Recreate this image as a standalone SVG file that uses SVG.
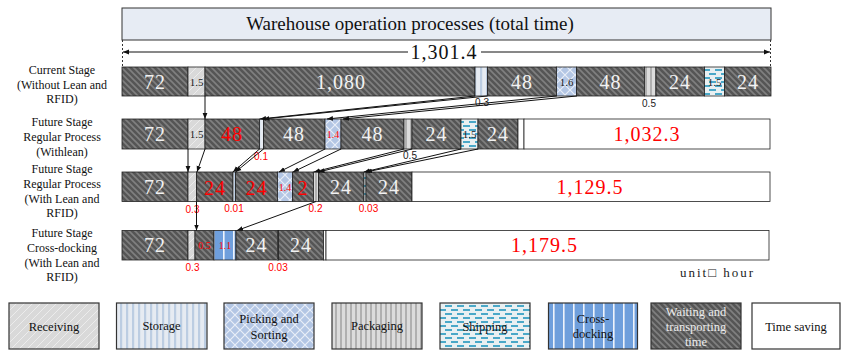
<svg xmlns="http://www.w3.org/2000/svg" width="842" height="352" viewBox="0 0 842 352">
<style>
.bg{fill:#fff}
.seg{stroke:#222;stroke-width:0.8}
.wait{fill:url(#pWait)}
.recv{fill:url(#pRecv)}
.stor{fill:url(#pStor)}
.pick{fill:url(#pPick)}
.pack{fill:url(#pPack)}
.ship{fill:url(#pShip)}
.xdock{fill:url(#pX)}
.save{fill:#fff}
.big{font-family:"Liberation Serif","Times New Roman",serif;font-size:20px;letter-spacing:1px;text-anchor:middle;fill:#f2f2f2}
.red{fill:#ff0000}
.sm{font-family:"Liberation Serif","Times New Roman",serif;font-size:11px;text-anchor:middle;fill:#222}
.smr{font-family:"Liberation Serif","Times New Roman",serif;font-size:10px;text-anchor:middle;fill:#ff0000}
.note{font-family:"Liberation Sans",Arial,sans-serif;font-size:10px;text-anchor:middle;fill:#222}
.noter{font-family:"Liberation Sans",Arial,sans-serif;font-size:10px;text-anchor:middle;fill:#ff0000}
.lab{font-family:"Liberation Serif","Times New Roman",serif;font-size:12px;text-anchor:middle;fill:#111}
.leg{font-family:"Liberation Serif","Times New Roman",serif;font-size:12.5px;text-anchor:middle;fill:#111}
.legw{fill:#ececec}
.lbox{stroke:#333;stroke-width:1.2}
.con line{stroke:#111;stroke-width:1;marker-end:url(#ah)}
</style>
<defs>
<marker id="ah" viewBox="0 0 10 10" refX="10" refY="5" markerWidth="6" markerHeight="6" markerUnits="userSpaceOnUse" orient="auto"><path d="M0,1 L10,5 L0,9 z" fill="#111"/></marker>
<pattern id="pWait" patternUnits="userSpaceOnUse" width="6" height="6"><rect width="6" height="6" fill="#555"/><path d="M-3,3 L3,9 M0,0 L6,6 M3,-3 L9,3" stroke="#808080" stroke-width="1.6"/></pattern>
<pattern id="pRecv" patternUnits="userSpaceOnUse" width="8" height="8"><rect width="8" height="8" fill="#d9d9d9"/><path d="M-2,2 L2,-2 M0,8 L8,0 M6,10 L10,6" stroke="#ececec" stroke-width="1"/></pattern>
<pattern id="pStor" patternUnits="userSpaceOnUse" width="6" height="6"><rect width="6" height="6" fill="#e6ebf2"/><rect width="2.2" height="6" fill="#bccde2"/></pattern>
<pattern id="pPick" patternUnits="userSpaceOnUse" width="10" height="10"><rect width="10" height="10" fill="#b3c6e4"/><path d="M0,0 L10,10 M10,0 L0,10" stroke="#e9eff8" stroke-width="1.2"/></pattern>
<pattern id="pPack" patternUnits="userSpaceOnUse" width="5" height="6"><rect width="5" height="6" fill="#dcdcdc"/><rect width="2" height="6" fill="#b0b0b0"/></pattern>
<pattern id="pShip" patternUnits="userSpaceOnUse" width="12" height="8"><rect width="12" height="8" fill="#e9f0f2"/><rect x="1" y="1" width="7" height="2" fill="#4aa8c8"/><rect x="7" y="5" width="7" height="2" fill="#4aa8c8"/><rect x="-5" y="5" width="7" height="2" fill="#4aa8c8"/></pattern>
<pattern id="pX" patternUnits="userSpaceOnUse" width="10" height="6"><rect width="10" height="6" fill="#6f9fdc"/><rect x="3" width="1.6" height="6" fill="#eef3fb"/></pattern>
</defs>
<rect class="bg" width="842" height="352"/>

<g id="title">
<rect x="122" y="8" width="649" height="32" fill="#e7ecf4" stroke="#333" stroke-width="1"/>
<text x="410" y="30" font-family="Liberation Serif,Times New Roman,serif" font-size="19" text-anchor="middle" fill="#111">Warehouse operation processes (total time)</text>
</g>

<g id="total">
<line x1="122.5" y1="40" x2="122.5" y2="67" stroke="#333" stroke-dasharray="2,2"/>
<line x1="770.5" y1="40" x2="770.5" y2="67" stroke="#333" stroke-dasharray="2,2"/>
<line x1="408" y1="52" x2="123" y2="52" stroke="#111" marker-end="url(#ah)"/>
<line x1="481" y1="52" x2="770" y2="52" stroke="#111" marker-end="url(#ah)"/>
<text x="444" y="59" font-family="Liberation Serif,Times New Roman,serif" font-size="20" letter-spacing="1" text-anchor="middle" fill="#111">1,301.4</text>
</g>

<g id="row1">
<text class="lab" x="62" y="74">Current Stage</text>
<text class="lab" x="62" y="89">(Without Lean and</text>
<text class="lab" x="62" y="103">RFID)</text>
<rect class="seg wait" x="122" y="67" width="66" height="29"/>
<rect class="seg recv" x="188" y="67" width="17" height="29"/>
<rect class="seg wait" x="205" y="67" width="270" height="29"/>
<rect class="seg stor" x="475" y="67" width="12.5" height="29"/>
<rect class="seg wait" x="487.5" y="67" width="69" height="29"/>
<rect class="seg pick" x="556.5" y="67" width="20" height="29"/>
<rect class="seg wait" x="576.5" y="67" width="68" height="29"/>
<rect class="seg pack" x="644.5" y="67" width="11.5" height="29"/>
<rect class="seg wait" x="656" y="67" width="48.5" height="29"/>
<rect class="seg ship" x="704.5" y="67" width="20" height="29"/>
<rect class="seg wait" x="724.5" y="67" width="46.5" height="29"/>
<text class="big" x="155" y="89">72</text>
<text class="sm" x="196.5" y="86">1.5</text>
<text class="big" x="341" y="89" letter-spacing="3">1,080</text>
<text class="big" x="522" y="89">48</text>
<text class="sm" x="566.5" y="86">1.6</text>
<text class="big" x="610.5" y="89">48</text>
<text class="big" x="680" y="89">24</text>
<text class="sm" x="714.5" y="86">1.5</text>
<text class="big" x="748" y="89">24</text>
<text class="note" x="482" y="106">0.3</text>
<text class="note" x="649" y="107">0.5</text>
</g>

<g id="row2">
<text class="lab" x="62" y="126">Future Stage</text>
<text class="lab" x="62" y="141">Regular Process</text>
<text class="lab" x="62" y="156">(Withlean)</text>
<rect class="seg wait" x="122" y="119" width="66" height="30"/>
<rect class="seg recv" x="188" y="119" width="17" height="30"/>
<rect class="seg wait" x="205" y="119" width="54.5" height="30"/>
<rect class="seg stor" x="259.5" y="119" width="4" height="30"/>
<rect class="seg wait" x="263.5" y="119" width="61.5" height="30"/>
<rect class="seg pick" x="325" y="119" width="16" height="30"/>
<rect class="seg wait" x="341" y="119" width="63" height="30"/>
<rect class="seg pack" x="404" y="119" width="8" height="30"/>
<rect class="seg wait" x="412" y="119" width="49" height="30"/>
<rect class="seg ship" x="461" y="119" width="17" height="30"/>
<rect class="seg wait" x="478" y="119" width="40" height="30"/>
<rect class="seg save" x="518" y="119" width="6" height="30"/>
<rect class="seg save" x="524" y="119" width="246" height="30"/>
<text class="big" x="155" y="141">72</text>
<text class="sm" x="196.5" y="138">1.5</text>
<text class="big red" x="232" y="141">48</text>
<text class="big" x="294" y="141">48</text>
<text class="smr" x="333" y="138">1.4</text>
<text class="big" x="372.5" y="141">48</text>
<text class="big" x="436.5" y="141">24</text>
<text class="sm" x="469.5" y="138">1.5</text>
<text class="big" x="498" y="141">24</text>
<text class="big red" x="647" y="141">1,032.3</text>
<text class="noter" x="261" y="160">0.1</text>
<text class="note" x="410" y="159">0.5</text>
</g>

<g id="row3">
<text class="lab" x="62" y="173">Future Stage</text>
<text class="lab" x="62" y="188">Regular Process</text>
<text class="lab" x="62" y="203">(With Lean and</text>
<text class="lab" x="62" y="217">RFID)</text>
<rect class="seg wait" x="122" y="172" width="66" height="29.5"/>
<rect class="seg recv" x="188" y="172" width="8.5" height="29.5"/>
<rect class="seg wait" x="196.5" y="172" width="36.5" height="29.5"/>
<rect class="seg stor" x="233" y="172" width="2.5" height="29.5"/>
<rect class="seg wait" x="235.5" y="172" width="42" height="29.5"/>
<rect class="seg pick" x="277.5" y="172" width="15" height="29.5"/>
<rect class="seg wait" x="292.5" y="172" width="21" height="29.5"/>
<rect class="seg pack" x="313.5" y="172" width="5" height="29.5"/>
<rect class="seg wait" x="318.5" y="172" width="45.5" height="29.5"/>
<rect class="seg ship" x="364" y="172" width="2" height="29.5"/>
<rect class="seg wait" x="366" y="172" width="46" height="29.5"/>
<rect class="seg save" x="412" y="172" width="358" height="29.5"/>
<text class="big" x="155" y="194">72</text>
<text class="big red" x="215" y="195" font-size="22">24</text>
<text class="big red" x="256.5" y="195" font-size="22">24</text>
<text class="smr" x="285" y="191">1.4</text>
<text class="big red" x="303" y="195" font-size="22">2</text>
<text class="big" x="341" y="194">24</text>
<text class="big" x="389" y="194">24</text>
<text class="big red" x="590" y="194">1,129.5</text>
<text class="noter" x="192.5" y="213">0.3</text>
<text class="noter" x="234" y="212">0.01</text>
<text class="noter" x="315.5" y="212">0.2</text>
<text class="noter" x="368.5" y="212">0.03</text>
</g>

<g id="row4">
<text class="lab" x="62" y="237">Future Stage</text>
<text class="lab" x="62" y="252">Cross-docking</text>
<text class="lab" x="62" y="267">(With Lean and</text>
<text class="lab" x="62" y="281">RFID)</text>
<rect class="seg wait" x="122" y="230.5" width="66" height="29.5"/>
<rect class="seg recv" x="188" y="230.5" width="7" height="29.5"/>
<rect class="seg wait" x="195" y="230.5" width="19" height="29.5"/>
<rect class="seg xdock" x="214" y="230.5" width="22" height="29.5"/>
<rect class="seg wait" x="236" y="230.5" width="41.5" height="29.5"/>
<rect class="seg save" x="277.5" y="230.5" width="1" height="29.5"/>
<rect class="seg wait" x="278.5" y="230.5" width="45" height="29.5"/>
<rect class="seg save" x="323.5" y="230.5" width="2.5" height="29.5"/>
<rect class="seg save" x="326" y="230.5" width="443" height="29.5"/>
<text class="big" x="155" y="252">72</text>
<text class="smr" x="204.5" y="249" font-size="11">0.5</text>
<text class="smr" x="225" y="249" font-size="11">1.1</text>
<text class="big" x="256.5" y="252">24</text>
<text class="big" x="301" y="252">24</text>
<text class="big red" x="544.5" y="252">1,179.5</text>
<text class="noter" x="192.5" y="271">0.3</text>
<text class="noter" x="278" y="271">0.03</text>
<text x="680" y="277" font-family="Liberation Serif,Times New Roman,serif" font-size="13" letter-spacing="2" fill="#222">unit□ hour</text>
</g>

<g id="connectors" class="con">
<line x1="205" y1="96" x2="205" y2="119"/>
<line x1="475" y1="96" x2="260" y2="119"/>
<line x1="487" y1="96" x2="263.5" y2="119"/>
<line x1="556.5" y1="96" x2="327" y2="119"/>
<line x1="576.5" y1="96" x2="343" y2="119"/>
<line x1="188" y1="149" x2="188" y2="172"/>
<line x1="205" y1="149" x2="197" y2="172"/>
<line x1="259.5" y1="149" x2="233" y2="172"/>
<line x1="263.5" y1="149" x2="235.5" y2="172"/>
<line x1="325" y1="149" x2="279" y2="172"/>
<line x1="341" y1="149" x2="293" y2="172"/>
<line x1="404" y1="149" x2="314" y2="172"/>
<line x1="412" y1="149" x2="318.5" y2="172"/>
<line x1="461" y1="149" x2="364" y2="172"/>
<line x1="478" y1="149" x2="366" y2="172"/>
<line x1="196.5" y1="201.5" x2="196.5" y2="230.5"/>
<line x1="316" y1="201.5" x2="237" y2="230.5"/>
</g>

<g id="legend-receiving"><rect class="lbox recv" x="9" y="303" width="90" height="46"/><text class="leg" x="54" y="331" font-size="14">Receiving</text></g>
<g id="legend-storage"><rect class="lbox stor" x="116.5" y="303" width="90.5" height="46"/><text class="leg" x="161.5" y="330">Storage</text></g>
<g id="legend-picking"><rect class="lbox pick" x="224" y="303" width="90" height="46"/><text class="leg" x="269" y="323">Picking and</text><text class="leg" x="269" y="339">Sorting</text></g>
<g id="legend-packaging"><rect class="lbox pack" x="332" y="303" width="90" height="46"/><text class="leg" x="377" y="330">Packaging</text></g>
<g id="legend-shipping"><rect class="lbox ship" x="440" y="303" width="90" height="46"/><text class="leg" x="485" y="331">Shipping</text></g>
<g id="legend-crossdocking"><rect class="lbox xdock" x="548.5" y="303" width="89" height="46"/><text class="leg" x="593" y="323">Cross-</text><text class="leg" x="593" y="338">docking</text></g>
<g id="legend-waiting"><rect class="lbox wait" x="651" y="303" width="90" height="46"/><text class="leg legw" x="696" y="316">Waiting and</text><text class="leg legw" x="696" y="331">transporting</text><text class="leg legw" x="696" y="346">time</text></g>
<g id="legend-timesaving"><rect class="lbox save" x="752" y="303" width="88" height="46"/><text class="leg" x="796" y="331">Time saving</text></g>
</svg>
